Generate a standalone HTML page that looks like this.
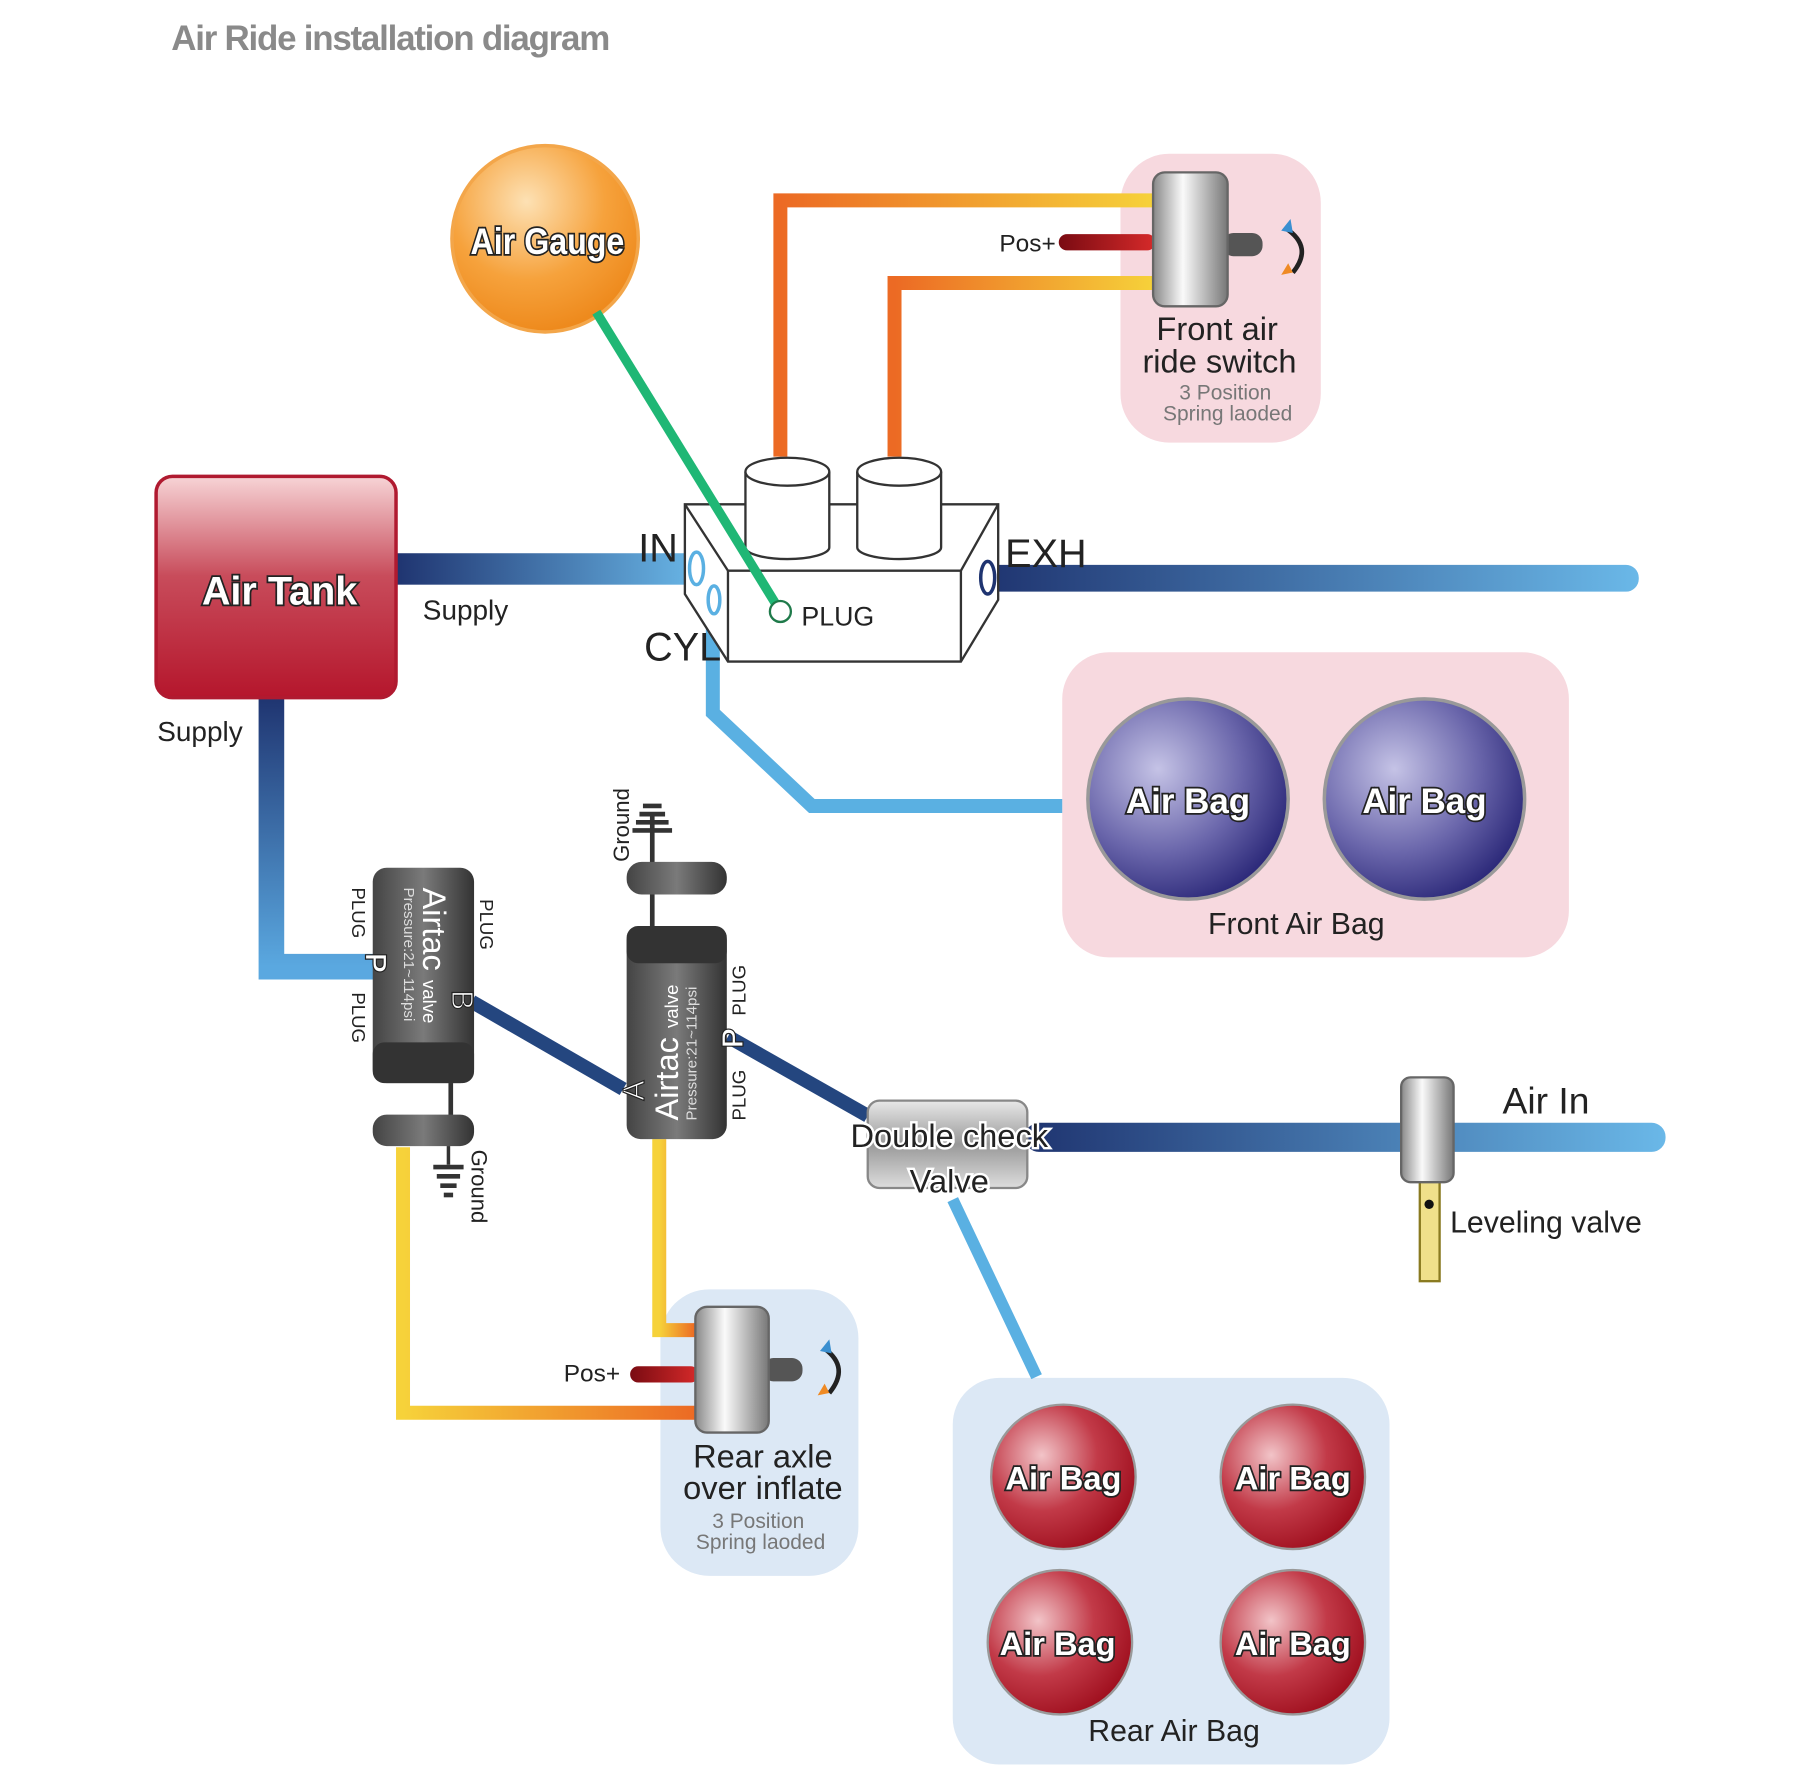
<!DOCTYPE html>
<html><head><meta charset="utf-8"><style>
html,body{margin:0;padding:0;background:#fff;width:1817px;height:1782px;overflow:hidden}
svg{display:block}
text{font-family:"Liberation Sans Narrow","Liberation Sans",sans-serif}
.lbl{fill:#222}
.big{fill:#fff;stroke:#222;stroke-width:3;paint-order:stroke;font-weight:bold}
</style></head><body>
<svg width="1817" height="1782" viewBox="0 0 1560 1530" xmlns="http://www.w3.org/2000/svg">
<defs>
<radialGradient id="gauge" cx="40%" cy="30%" r="70%"><stop offset="0" stop-color="#fde1b4"/><stop offset="0.6" stop-color="#f6a23c"/><stop offset="1" stop-color="#ee8a1d"/></radialGradient>
<linearGradient id="tank" x1="0" y1="0" x2="0" y2="1"><stop offset="0" stop-color="#f7d4d6"/><stop offset="0.45" stop-color="#c84c5b"/><stop offset="1" stop-color="#b5162c"/></linearGradient>
<radialGradient id="purple" cx="35%" cy="35%" r="70%"><stop offset="0" stop-color="#c5c3e6"/><stop offset="0.6" stop-color="#6a66ab"/><stop offset="1" stop-color="#2d2a7a"/></radialGradient>
<radialGradient id="red" cx="35%" cy="35%" r="70%"><stop offset="0" stop-color="#f2c4c8"/><stop offset="0.55" stop-color="#c23a48"/><stop offset="1" stop-color="#a0101f"/></radialGradient>
<linearGradient id="pipeR" x1="0" y1="0" x2="1" y2="0"><stop offset="0" stop-color="#1f3470"/><stop offset="1" stop-color="#6ab8e8"/></linearGradient>
<linearGradient id="pipeD" x1="0" y1="0" x2="0" y2="1"><stop offset="0" stop-color="#1f3470"/><stop offset="1" stop-color="#5aa8e0"/></linearGradient>
<linearGradient id="orng" x1="0" y1="0" x2="1" y2="0"><stop offset="0" stop-color="#ec6a24"/><stop offset="1" stop-color="#f6d23a"/></linearGradient>
<linearGradient id="yel" x1="0" y1="0" x2="1" y2="0"><stop offset="0" stop-color="#f6d23a"/><stop offset="1" stop-color="#ec6a24"/></linearGradient>
<linearGradient id="cyl" x1="0" y1="0" x2="1" y2="0"><stop offset="0" stop-color="#888"/><stop offset="0.4" stop-color="#fafafa"/><stop offset="1" stop-color="#777"/></linearGradient>
<linearGradient id="valve" x1="0" y1="0" x2="1" y2="0"><stop offset="0" stop-color="#444"/><stop offset="0.5" stop-color="#7a7a7a"/><stop offset="1" stop-color="#333"/></linearGradient>
<linearGradient id="dcv" x1="0" y1="0" x2="0" y2="1"><stop offset="0" stop-color="#e8e8e8"/><stop offset="0.5" stop-color="#999"/><stop offset="1" stop-color="#ddd"/></linearGradient>
<linearGradient id="redw" x1="0" y1="0" x2="1" y2="0"><stop offset="0" stop-color="#7a0b12"/><stop offset="1" stop-color="#d62a2a"/></linearGradient>
</defs>

<text x="147" y="43" font-size="30" font-weight="bold" fill="#8a8a8a" textLength="377">Air Ride installation diagram</text>

<rect x="962" y="132" width="172" height="248" rx="42" fill="#f7d9df"/>
<rect x="912" y="560" width="435" height="262" rx="40" fill="#f7d9df"/>
<rect x="567" y="1107" width="170" height="246" rx="42" fill="#dce8f5"/>
<rect x="818" y="1183" width="375" height="332" rx="40" fill="#dce8f5"/>

<path d="M670 392 V172 H992" fill="none" stroke="url(#orng)" stroke-width="12"/>
<path d="M768 392 V243 H992" fill="none" stroke="url(#orng)" stroke-width="12"/>
<rect x="909" y="201" width="83" height="14" rx="7" fill="url(#redw)"/>
<text x="858" y="216" font-size="21" class="lbl">Pos+</text>
<rect x="1050" y="200" width="34" height="20" rx="9" fill="#555"/>
<rect x="990" y="148" width="64" height="115" rx="10" fill="url(#cyl)" stroke="#666" stroke-width="2"/>
<path d="M1104 196 Q1128 212 1110 234" fill="none" stroke="#222" stroke-width="4"/>
<path d="M1108 188 l-8 10 l10 2z" fill="#3a8fd0"/><path d="M1110 234 l-10 2 l6 -10z" fill="#ef8a24"/>
<text x="1045" y="292" font-size="28" text-anchor="middle" class="lbl">Front air</text>
<text x="1047" y="320" font-size="28" text-anchor="middle" class="lbl">ride switch</text>
<text x="1052" y="343" font-size="18" text-anchor="middle" fill="#777">3 Position</text>
<text x="1054" y="361" font-size="18" text-anchor="middle" fill="#777">Spring laoded</text>

<circle cx="468" cy="205" r="80" fill="url(#gauge)" stroke="#f3a64a" stroke-width="3"/>
<text x="470" y="218" font-size="32" text-anchor="middle" class="big" textLength="132" lengthAdjust="spacingAndGlyphs">Air Gauge</text>

<rect x="340" y="475" width="262" height="27" fill="url(#pipeR)"/>
<rect x="845" y="485" width="562" height="23" rx="11" fill="url(#pipeR)"/>
<path d="M612 505 V612 L697 692 H912" fill="none" stroke="#5ab0e2" stroke-width="12"/>
<path d="M233 598 V830 H322" fill="none" stroke="url(#pipeD)" stroke-width="22"/>

<g fill="#fff" stroke="#333" stroke-width="2">
<polygon points="588,433 857,433 857,515 825,568 625,568 588,510"/>
<polyline points="588,433 625,490 825,490 857,433" fill="none"/>
<line x1="625" y1="490" x2="625" y2="568"/><line x1="825" y1="490" x2="825" y2="568"/>
<path d="M640 405 V470 A36 10 0 0 0 712 470 V405"/><ellipse cx="676" cy="405" rx="36" ry="12"/>
<path d="M736 405 V470 A36 10 0 0 0 808 470 V405"/><ellipse cx="772" cy="405" rx="36" ry="12"/>
</g>
<ellipse cx="598" cy="488" rx="6" ry="14" fill="#fff" stroke="#5ab0e2" stroke-width="3"/>
<ellipse cx="613" cy="515" rx="5" ry="12" fill="#fff" stroke="#5ab0e2" stroke-width="3"/>
<ellipse cx="848" cy="496" rx="6" ry="14" fill="#fff" stroke="#1f3470" stroke-width="3"/>
<line x1="512" y1="268" x2="670" y2="525" stroke="#1fb775" stroke-width="8"/>
<circle cx="670" cy="525" r="9" fill="#fff" stroke="#1f7a4a" stroke-width="2"/>
<text x="688" y="537" font-size="23" class="lbl">PLUG</text>
<text x="548" y="482" font-size="34" class="lbl">IN</text>
<text x="863" y="487" font-size="34" class="lbl">EXH</text>
<text x="553" y="567" font-size="34" class="lbl">CYL</text>

<rect x="134" y="409" width="206" height="190" rx="14" fill="url(#tank)" stroke="#b01a30" stroke-width="3"/>
<text x="240" y="519" font-size="34" text-anchor="middle" class="big">Air Tank</text>
<text x="363" y="532" font-size="24" class="lbl">Supply</text>
<text x="135" y="636" font-size="24" class="lbl">Supply</text>

<circle cx="1020" cy="686" r="86" fill="url(#purple)" stroke="#999" stroke-width="3"/>
<circle cx="1223" cy="686" r="86" fill="url(#purple)" stroke="#999" stroke-width="3"/>
<text x="1020" y="698" font-size="30" text-anchor="middle" class="big">Air Bag</text>
<text x="1223" y="698" font-size="30" text-anchor="middle" class="big">Air Bag</text>
<text x="1113" y="802" font-size="26" text-anchor="middle" class="lbl">Front Air Bag</text>

<path d="M346 985 V1213 H597" fill="none" stroke="url(#yel)" stroke-width="12"/>
<path d="M566 978 V1142 H597" fill="none" stroke="url(#yel)" stroke-width="12"/>

<line x1="405" y1="860" x2="535" y2="935" stroke="#24467f" stroke-width="12"/>
<line x1="625" y1="890" x2="745" y2="958" stroke="#24467f" stroke-width="12"/>
<line x1="818" y1="1030" x2="890" y2="1182" stroke="#5ab0e2" stroke-width="10"/>
<rect x="880" y="964" width="550" height="25" rx="12" fill="url(#pipeR)"/>

<line x1="387" y1="925" x2="387" y2="965" stroke="#333" stroke-width="4"/>
<rect x="320" y="745" width="87" height="185" rx="12" fill="url(#valve)"/>
<rect x="320" y="895" width="87" height="35" rx="10" fill="#333"/>
<rect x="320" y="957" width="87" height="27" rx="12" fill="url(#valve)"/>
<line x1="385" y1="984" x2="385" y2="1000" stroke="#333" stroke-width="3"/>
<g stroke="#333" stroke-width="4"><line x1="372" y1="1002" x2="398" y2="1002"/><line x1="375" y1="1010" x2="395" y2="1010"/><line x1="378" y1="1018" x2="392" y2="1018"/><line x1="381" y1="1026" x2="389" y2="1026"/></g>
<text transform="translate(405,987) rotate(90)" font-size="19" class="lbl">Ground</text>
<g transform="translate(363,762) rotate(90)">
<text x="0" y="0" font-size="28" fill="#fff">Airtac <tspan font-size="16">valve</tspan></text>
<text x="0" y="16" font-size="13" fill="#ddd">Pressure:21~114psi</text>
</g>
<text transform="translate(314,818) rotate(90)" font-size="26" fill="#fff" stroke="#222" stroke-width="1" font-weight="bold">P</text>
<text transform="translate(388,850) rotate(90)" font-size="26" fill="#fff" stroke="#222" stroke-width="1">B</text>
<text transform="translate(302,762) rotate(90)" font-size="16" class="lbl">PLUG</text>
<text transform="translate(302,852) rotate(90)" font-size="16" class="lbl">PLUG</text>
<text transform="translate(412,772) rotate(90)" font-size="16" class="lbl">PLUG</text>

<line x1="560" y1="700" x2="560" y2="800" stroke="#333" stroke-width="4"/>
<g stroke="#333" stroke-width="4"><line x1="552" y1="692" x2="568" y2="692"/><line x1="549" y1="699" x2="571" y2="699"/><line x1="546" y1="706" x2="574" y2="706"/><line x1="543" y1="713" x2="577" y2="713"/></g>
<text transform="translate(540,740) rotate(-90)" font-size="19" class="lbl">Ground</text>
<rect x="538" y="740" width="86" height="28" rx="13" fill="url(#valve)"/>
<rect x="538" y="795" width="86" height="183" rx="12" fill="url(#valve)"/>
<rect x="538" y="795" width="86" height="32" rx="10" fill="#333"/>
<g transform="translate(582,962) rotate(-90)">
<text x="0" y="0" font-size="28" fill="#fff">Airtac <tspan font-size="16">valve</tspan></text>
<text x="0" y="16" font-size="13" fill="#ddd">Pressure:21~114psi</text>
</g>
<text transform="translate(553,945) rotate(-90)" font-size="26" fill="#fff" stroke="#222" stroke-width="1">A</text>
<text transform="translate(638,900) rotate(-90)" font-size="26" fill="#fff" stroke="#222" stroke-width="1" font-weight="bold">P</text>
<text transform="translate(640,872) rotate(-90)" font-size="16" class="lbl">PLUG</text>
<text transform="translate(640,962) rotate(-90)" font-size="16" class="lbl">PLUG</text>

<rect x="745" y="945" width="137" height="75" rx="10" fill="url(#dcv)" stroke="#888" stroke-width="2"/>
<text x="815" y="985" font-size="28" text-anchor="middle" fill="#222" stroke="#fff" stroke-width="4" paint-order="stroke">Double check</text>
<text x="815" y="1024" font-size="28" text-anchor="middle" fill="#222" stroke="#fff" stroke-width="4" paint-order="stroke">Valve</text>

<rect x="1219" y="1012" width="17" height="88" fill="#f0e08a" stroke="#8a7a20" stroke-width="2"/>
<circle cx="1227" cy="1034" r="4" fill="#111"/>
<rect x="1203" y="925" width="45" height="90" rx="8" fill="url(#cyl)" stroke="#666" stroke-width="2"/>
<text x="1290" y="956" font-size="32" class="lbl">Air In</text>
<text x="1245" y="1058" font-size="26" class="lbl">Leveling valve</text>

<rect x="541" y="1173" width="59" height="14" rx="7" fill="url(#redw)"/>
<text x="484" y="1186" font-size="21" class="lbl">Pos+</text>
<rect x="655" y="1166" width="34" height="20" rx="9" fill="#555"/>
<rect x="597" y="1122" width="63" height="108" rx="10" fill="url(#cyl)" stroke="#666" stroke-width="2"/>
<path d="M708 1158 Q730 1174 712 1196" fill="none" stroke="#222" stroke-width="4"/>
<path d="M712 1150 l-8 10 l10 2z" fill="#3a8fd0"/><path d="M712 1196 l-10 2 l6 -10z" fill="#ef8a24"/>
<text x="655" y="1260" font-size="28" text-anchor="middle" class="lbl">Rear axle</text>
<text x="655" y="1287" font-size="28" text-anchor="middle" class="lbl">over inflate</text>
<text x="651" y="1312" font-size="18" text-anchor="middle" fill="#777">3 Position</text>
<text x="653" y="1330" font-size="18" text-anchor="middle" fill="#777">Spring laoded</text>

<circle cx="913" cy="1268" r="62" fill="url(#red)" stroke="#999" stroke-width="2"/>
<circle cx="1110" cy="1268" r="62" fill="url(#red)" stroke="#999" stroke-width="2"/>
<circle cx="910" cy="1410" r="62" fill="url(#red)" stroke="#999" stroke-width="2"/>
<circle cx="1110" cy="1410" r="62" fill="url(#red)" stroke="#999" stroke-width="2"/>
<text x="913" y="1279" font-size="28" text-anchor="middle" class="big">Air Bag</text>
<text x="1110" y="1279" font-size="28" text-anchor="middle" class="big">Air Bag</text>
<text x="908" y="1421" font-size="28" text-anchor="middle" class="big">Air Bag</text>
<text x="1110" y="1421" font-size="28" text-anchor="middle" class="big">Air Bag</text>
<text x="1008" y="1495" font-size="26" text-anchor="middle" class="lbl">Rear Air Bag</text>
</svg>
</body></html>
